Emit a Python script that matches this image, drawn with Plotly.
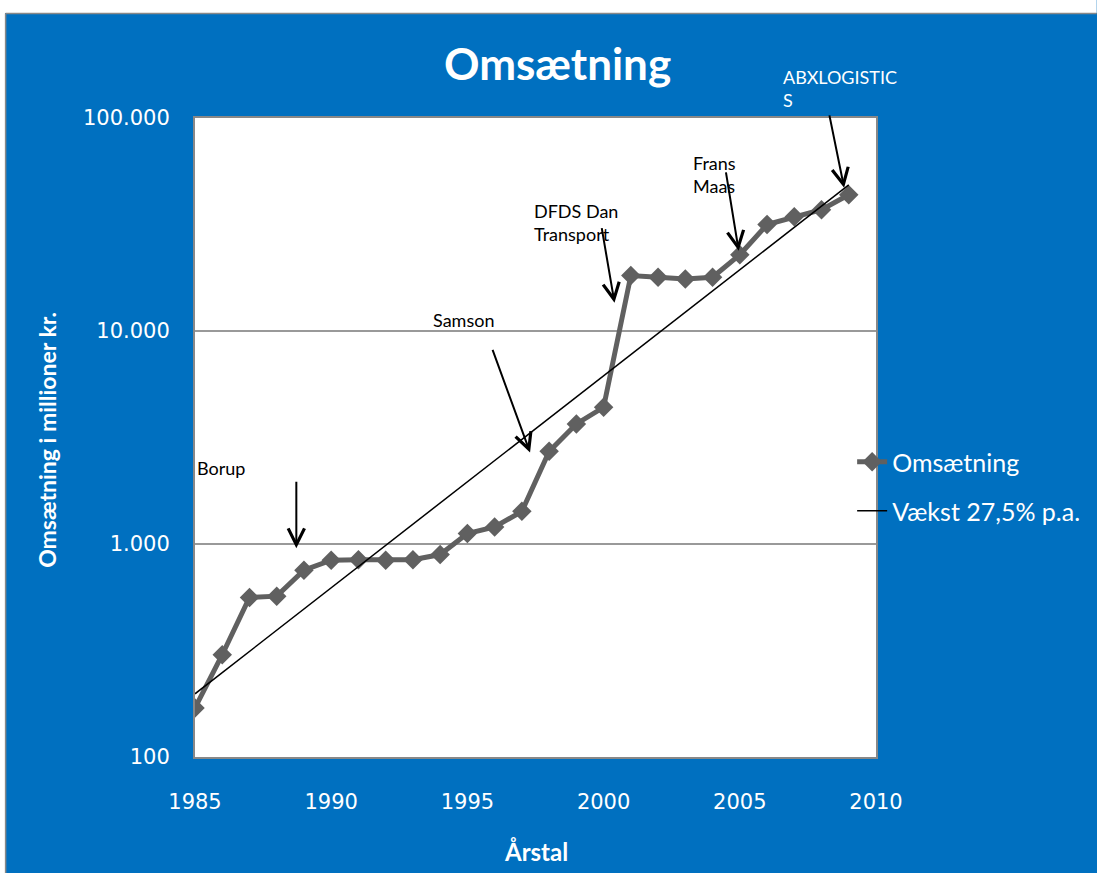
import math
import plotly.graph_objects as go

years = list(range(1985, 2010))
revenue = [170, 302, 561, 569, 753, 839, 843, 839, 843, 892, 1119, 1203, 1423, 2722,
           3664, 4385, 18200, 17870, 17550, 17870, 22800, 31600, 34400, 37100, 43600]
trend_years = [1985, 2009]
trend_values = [198, 48500]

ytick_vals = [100, 1000, 10000, 100000]
ytick_text = ["100", "1.000", "10.000", "100.000"]
xtick_vals = [1985, 1990, 1995, 2000, 2005, 2010]

BLUE = "#0070C0"
W, H = 1097, 873
L, R, T, B = 195, 217, 118, 116
PW, PH = W - L - R, H - T - B

def px(x):
    return (x - L) / PW

def py(y):
    return (H - B - y) / PH

fig = go.Figure()
fig.add_trace(go.Scatter(
    x=years, y=revenue, mode="lines+markers", name="Omsætning",
    line=dict(color="#606060", width=5),
    marker=dict(symbol="diamond", size=15, color="#606060"),
    legend="legend"))
fig.add_trace(go.Scatter(
    x=trend_years, y=trend_values, mode="lines", name="Vækst 27,5% p.a.",
    line=dict(color="black", width=1.5), legend="legend2"))

ann = []
ann.append(dict(text="<b>Omsætning</b>", xref="paper", yref="paper", x=px(560), y=py(63),
                xanchor="center", yanchor="middle", showarrow=False,
                font=dict(family="Lato", size=44, color="white")))
ann.append(dict(text="<b>Omsætning i millioner kr.</b>", xref="paper", yref="paper",
                x=px(46), y=py(440), xanchor="center", yanchor="middle",
                textangle=-90, showarrow=False,
                font=dict(family="Lato", size=23, color="white")))
ann.append(dict(text="<b>Årstal</b>", xref="paper", yref="paper", x=px(538), y=py(851),
                xanchor="center", yanchor="middle", showarrow=False,
                font=dict(family="Lato", size=24, color="white")))

labels = [
    ("Borup", 195, 468, "black"),
    ("Samson", 432, 320, "black"),
    ("DFDS Dan<br>Transport", 534, 222, "black"),
    ("Frans<br>Maas", 694, 174, "black"),
    ("ABXLOGISTIC<br>S", 784, 88, "white"),
]
for txt, lx, ly, col in labels:
    ann.append(dict(text=txt, xref="paper", yref="paper", x=px(lx), y=py(ly),
                    xanchor="left", yanchor="middle", align="left", showarrow=False,
                    font=dict(family="Lato", size=18, color=col)))

arrows = [
    (1988.72, 955, 0, -68),
    (1997.3, 2690, -38, -104),
    (2000.4, 13580, -13, -76),
    (2004.96, 23800, -13, -80),
    (2008.83, 47000, -15, -74),
]
for hx, hy, dx, dy in arrows:
    ann.append(dict(x=hx, y=math.log10(hy), xref="x", yref="y", ax=dx, ay=dy, text="",
                    showarrow=True, arrowhead=5, arrowsize=1.6, arrowwidth=2,
                    arrowcolor="black"))

fig.update_layout(
    width=W, height=H,
    margin=dict(l=L, r=R, t=T, b=B),
    paper_bgcolor=BLUE, plot_bgcolor="white",
    showlegend=True,
    legend=dict(x=px(856), y=py(462), xanchor="left", yanchor="middle",
                bgcolor="rgba(0,0,0,0)", font=dict(family="Lato", size=25, color="white")),
    legend2=dict(x=px(856), y=py(511), xanchor="left", yanchor="middle",
                 bgcolor="rgba(0,0,0,0)", font=dict(family="Lato", size=25, color="white")),
    annotations=ann,
    shapes=[
        dict(type="rect", xref="paper", yref="paper", x0=px(-5), x1=px(W + 5),
             y0=py(13), y1=py(-5), fillcolor="white", line=dict(width=0), layer="above"),
        dict(type="rect", xref="paper", yref="paper", x0=px(-5), x1=px(4),
             y0=py(H + 5), y1=py(-5), fillcolor="white", line=dict(width=0), layer="above"),
        dict(type="line", xref="paper", yref="paper", x0=px(4.5), x1=px(W + 5),
             y0=py(13.5), y1=py(13.5), line=dict(color="#888888", width=1.5), layer="above"),
        dict(type="line", xref="paper", yref="paper", x0=px(4.5), x1=px(4.5),
             y0=py(13.5), y1=py(H + 5), line=dict(color="#888888", width=1.5), layer="above"),
    ],
)
fig.update_xaxes(range=[1985, 2010], tickvals=xtick_vals, showgrid=False,
                 zeroline=False, showline=True, linecolor="#888888", linewidth=2,
                 mirror=True, ticks="", ticklabelstandoff=25,
                 tickfont=dict(family="DejaVu Sans", size=21, color="white"))
fig.update_yaxes(type="log", range=[2, 5], tickvals=ytick_vals, ticktext=ytick_text,
                 showgrid=True, gridcolor="#999999", gridwidth=1.5,
                 zeroline=False, showline=True, linecolor="#888888", linewidth=2,
                 mirror=True, ticks="", ticklabelstandoff=19,
                 tickfont=dict(family="DejaVu Sans", size=21, color="white"))

fig.write_html("out.html")
